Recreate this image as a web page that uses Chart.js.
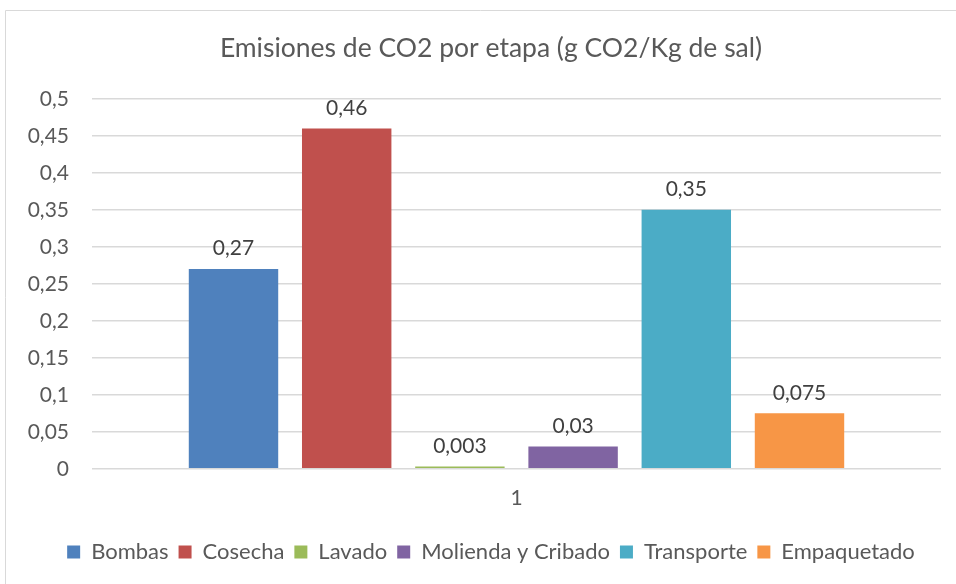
<!DOCTYPE html>
<html>
<head>
<meta charset="utf-8">
<script src="https://cdn.jsdelivr.net/npm/chart.js@4.4.0/dist/chart.umd.min.js"></script>
<style>
  html, body { margin: 0; padding: 0; background: #fff; }
  #wrap { position: relative; width: 956px; height: 584px; }
</style>
</head>
<body>
<div id="wrap"><canvas id="grafico" width="956" height="584"></canvas></div>
<script>
// datos
const categorias = ["1"];
const etapas = ["Bombas", "Cosecha", "Lavado", "Molienda y Cribado", "Transporte", "Empaquetado"];
const valores = [0.27, 0.46, 0.003, 0.03, 0.35, 0.075];
const colores = ["#4f81bd", "#c0504d", "#9bbb59", "#8064a2", "#4bacc6", "#f79646"];
const titulo = "Emisiones de CO2 por etapa (g CO2/Kg de sal)";

const coma = v => String(v).replace(".", ",");

// etiquetas encima de cada barra
const etiquetas = {
    id: "etiquetas",
    afterDatasetsDraw(chart) {
        const ctx = chart.ctx;
        ctx.save();
        ctx.font = "21px Lato";
        ctx.fillStyle = "#404040";
        ctx.textAlign = "center";
        ctx.textBaseline = "bottom";
        chart.data.datasets.forEach((ds, i) => {
            const meta = chart.getDatasetMeta(i);
            meta.data.forEach((bar, j) => {
                ctx.fillText(coma(ds.data[j]), bar.x, bar.y - 10);
            });
        });
        ctx.restore();
    }
};

// borde del grafico (solo arriba e izquierda, el resto queda fuera)
const borde = {
    id: "borde",
    beforeDraw(chart) {
        const ctx = chart.ctx;
        ctx.save();
        ctx.strokeStyle = "#d9d9d9";
        ctx.lineWidth = 1;
        ctx.beginPath();
        ctx.moveTo(5.5, 584);
        ctx.lineTo(5.5, 10.5);
        ctx.lineTo(956, 10.5);
        ctx.stroke();
        ctx.restore();
    }
};

new Chart(document.getElementById("grafico").getContext("2d"), {
    type: "bar",
    data: {
        labels: categorias,
        datasets: etapas.map((e, i) => ({
            label: e,
            data: [valores[i]],
            backgroundColor: colores[i],
            categoryPercentage: 0.8,
            barPercentage: 0.79
        }))
    },
    options: {
        responsive: false,
        animation: false,
        layout: { padding: { left: 26, right: 0, top: 25, bottom: 11 } },
        plugins: {
            title: {
                display: true,
                text: titulo,
                color: "#595959",
                font: { family: "Lato", size: 26.5, weight: "normal" },
                padding: { top: 8, bottom: 34 }
            },
            legend: {
                position: "bottom",
                labels: {
                    color: "#595959",
                    font: { family: "Lato", size: 22 },
                    boxWidth: 13,
                    boxHeight: 13,
                    padding: 10
                }
            },
            tooltip: { enabled: false }
        },
        scales: {
            x: {
                afterFit(s) { s.height += 11; },
                grid: { display: false },
                border: { display: false },
                ticks: { color: "#595959", font: { family: "Lato", size: 21 }, padding: 9 }
            },
            y: {
                min: 0,
                max: 0.5,
                afterFit(s) { s.width = 66; },
                grid: { color: "#d9d9d9", lineWidth: 1.5, drawTicks: false },
                border: { display: false },
                ticks: {
                    stepSize: 0.05,
                    padding: 23,
                    color: "#595959",
                    font: { family: "Lato", size: 21 },
                    callback: v => coma(Number(v.toFixed(2)))
                }
            },
            // eje vacio a la derecha, solo deja el margen
            margen: {
                position: "right",
                afterFit(s) { s.width = 15; },
                grid: { display: false },
                border: { display: false },
                ticks: { display: false }
            }
        }
    },
    plugins: [etiquetas, borde]
});
</script>
</body>
</html>
